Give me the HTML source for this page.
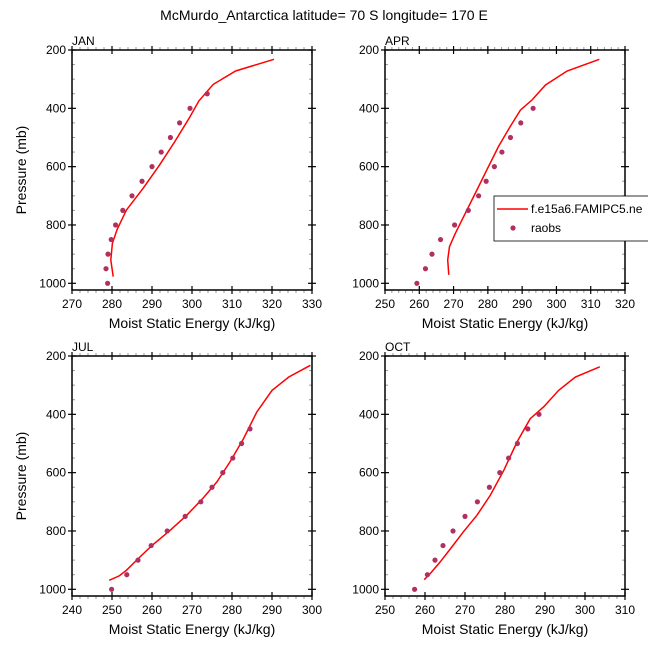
<!DOCTYPE html>
<html><head><meta charset="utf-8"><style>
body{margin:0;background:#fff}
svg{display:block;font-family:"Liberation Sans",sans-serif}
</style></head><body>
<svg id="c" width="648" height="648" viewBox="0 0 648 648">
<text x="324" y="20" text-anchor="middle" font-size="14">McMurdo_Antarctica  latitude= 70 S longitude= 170 E</text>
</svg>
<script>
const panelNames = ["JAN","APR","JUL","OCT"];
const xMins = [270,250,240,250];
const xMaxs = [330,320,300,310];
const yTicks = [200,400,600,800,1000];
const janLineX = [280.3,279.7,280.1,281.3,283.6,287.8,291.9,295.7,299.5,301.7,305.3,310.9,320.5];
const janLineP = [977,920,863,815,749,674,594,514,429,375,318,272,232];
const aprLineX = [268.6,268.3,268.8,270.5,273.9,276.8,279.7,283.1,286.5,289.5,292.9,296.8,303.1,312.5];
const aprLineP = [971,920,874,829,749,680,611,531,463,406,371,320,272,232];
const julLineX = [249.3,251.8,253.6,256.1,259.9,264.5,268.7,272.8,276.2,279.5,282.9,286.2,290,294.2,299.6];
const julLineP = [969,954,935,901,851,798,746,687,632,563,483,392,318,272,232];
const octLineX = [259.8,261.3,263.8,266.7,269.6,273,276.3,279.7,283,286.3,289.7,293.4,297.6,303.7];
const octLineP = [967,946,906,855,803,746,678,592,495,415,374,318,272,237];
const obsP = [1000,950,900,850,800,750,700,650,600,550,500,450,400,350];
const janObsX = [278.9,278.5,279,279.8,280.9,282.7,285,287.5,290,292.3,294.6,296.9,299.5,303.8];
const aprObsX = [259.3,261.8,263.7,266.2,270.3,274.3,277.3,279.5,281.9,284.1,286.6,289.6,293.2];
const julObsX = [249.9,253.7,256.5,259.8,263.8,268.3,272.2,275,277.7,280.2,282.4,284.5];
const octObsX = [257.4,260.6,262.5,264.5,267,270,273.1,276.1,278.7,280.9,283.1,285.7,288.5];
const lineXs=[janLineX,aprLineX,julLineX,octLineX];
const linePs=[janLineP,aprLineP,julLineP,octLineP];
const obsXs=[janObsX,aprObsX,julObsX,octObsX];

const svg=document.getElementById('c');
const NS='http://www.w3.org/2000/svg';
function mk(t,a,p){const e=document.createElementNS(NS,t);for(const k in a)e.setAttribute(k,a[k]);(p||svg).appendChild(e);return e;}
const lefts=[72,385,72,385], tops=[50,50,356,356], W=240, H=240;
const P0=200, P1=200+240*800/233.3;
for(let i=0;i<4;i++){
  const L=lefts[i],T=tops[i],x0=xMins[i],x1=xMaxs[i];
  const sx=v=>L+(v-x0)/(x1-x0)*W;
  const sy=p=>T+(p-P0)/(P1-P0)*H;
  const g=mk('g',{});
  
  
  for(let v=x0;v<=x1;v+=2){ if((v-x0)%10===0) continue;
    const X=sx(v);
    mk('line',{x1:X,x2:X,y1:T,y2:T-3,stroke:'#999','stroke-width':1},g);
    mk('line',{x1:X,x2:X,y1:T+H,y2:T+H+3,stroke:'#999','stroke-width':1},g);}
  for(let p=250;p<P1;p+=50){ if(p%200===0) continue;
    const Y=sy(p);
    mk('line',{x1:L,x2:L+3,y1:Y,y2:Y,stroke:'#999','stroke-width':1},g);
    mk('line',{x1:L+W,x2:L+W-3,y1:Y,y2:Y,stroke:'#999','stroke-width':1},g);}
  for(let v=x0;v<=x1;v+=10){const X=sx(v);
    mk('line',{x1:X,x2:X,y1:T-4,y2:T+4,stroke:'#000','stroke-width':1.2},g);
    mk('line',{x1:X,x2:X,y1:T+H-4,y2:T+H+4,stroke:'#000','stroke-width':1.2},g);
    const t=mk('text',{x:X,y:T+H+18,'text-anchor':'middle','font-size':12},g);t.textContent=v;
    
    }
  yTicks.forEach(p=>{const Y=sy(p);
    mk('line',{x1:L-4,x2:L+4,y1:Y,y2:Y,stroke:'#000','stroke-width':1.2},g);
    mk('line',{x1:L+W-4,x2:L+W+4,y1:Y,y2:Y,stroke:'#000','stroke-width':1.2},g);
    const t=mk('text',{x:L-6,y:Y+4,'text-anchor':'end','font-size':12},g);t.textContent=p;
    
    });
  const fr=mk('rect',{x:L,y:T,width:W,height:H,fill:'none',stroke:'#000','stroke-width':1.5},g);
  
  
  const lab=mk('text',{x:L,y:T-5,'font-size':12},g);lab.textContent=panelNames[i];
  
  
  const xt=mk('text',{x:L+W/2,y:T+H+38,'text-anchor':'middle','font-size':14},g);xt.textContent='Moist Static Energy (kJ/kg)';
  
  
  if(i%2===0){const yt=mk('text',{x:0,y:0,'text-anchor':'middle','font-size':14,transform:`translate(26,${T+H/2}) rotate(-90)`},g);yt.textContent='Pressure (mb)';
    
    }
  const pts=lineXs[i].map((v,k)=>sx(v).toFixed(1)+','+sy(linePs[i][k]).toFixed(1)).join(' ');
  const pl=mk('polyline',{points:pts,fill:'none',stroke:'#f00','stroke-width':1.5},g);
  
  
  obsXs[i].forEach((v,k)=>{const c=mk('circle',{cx:sx(v),cy:sy(obsP[k]),r:2.6,fill:'#b03060'},g);
    
    });
}
const lg=mk('g',{});


mk('rect',{x:494,y:196,width:160,height:45,fill:'#fff',stroke:'#000','stroke-width':0.8},lg);
mk('line',{x1:497,x2:528,y1:209,y2:209,stroke:'#f00','stroke-width':1.5},lg);
const l1=mk('text',{x:531,y:213,'font-size':12},lg);l1.textContent='f.e15a6.FAMIPC5.ne';


mk('circle',{cx:513,cy:228,r:2.6,fill:'#b03060'},lg);
const l2=mk('text',{x:531,y:232,'font-size':12},lg);l2.textContent='raobs';


</script>
</body></html>
